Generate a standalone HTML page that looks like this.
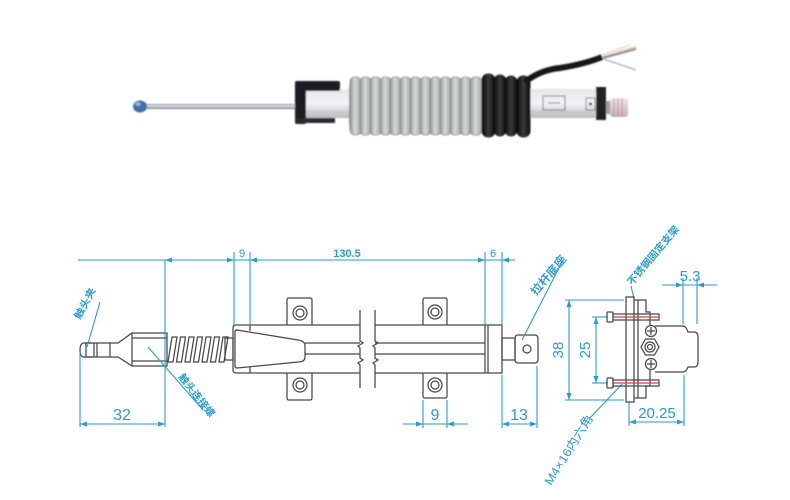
<!DOCTYPE html>
<html><head><meta charset="utf-8"><style>
html,body{margin:0;padding:0;background:#fff;}
svg{display:block;}
.d{stroke:#484848;stroke-width:1.25;fill:none;}
.b{stroke:#2b9bd3;stroke-width:1.1;fill:none;}
.a{fill:#2b9bd3;}
.t{fill:#2b9bd3;font-family:"Liberation Sans","Noto Sans CJK SC",sans-serif;}
.r{stroke:#e23a3a;stroke-width:1.2;}
</style></head><body>
<svg width="790" height="500" viewBox="0 0 790 500" xmlns="http://www.w3.org/2000/svg">
<defs>
<linearGradient id="rod" x1="0" y1="0" x2="0" y2="1"><stop offset="0" stop-color="#7b8290"/><stop offset="0.4" stop-color="#e8ecf0"/><stop offset="1" stop-color="#6a7180"/></linearGradient>
<linearGradient id="alu" x1="0" y1="0" x2="0" y2="1"><stop offset="0" stop-color="#e6e6ea"/><stop offset="0.5" stop-color="#f4f4f6"/><stop offset="1" stop-color="#b8b8be"/></linearGradient>
<linearGradient id="coil" x1="0" y1="0" x2="1" y2="0"><stop offset="0" stop-color="#8f9494"/><stop offset="0.45" stop-color="#d6dada"/><stop offset="1" stop-color="#9ea3a3"/></linearGradient>
<linearGradient id="bc" x1="0" y1="0" x2="1" y2="0"><stop offset="0" stop-color="#0c0c0c"/><stop offset="0.5" stop-color="#3a3a3a"/><stop offset="1" stop-color="#0c0c0c"/></linearGradient>
<linearGradient id="pink" x1="0" y1="0" x2="0" y2="1"><stop offset="0" stop-color="#f3e4ea"/><stop offset="1" stop-color="#c9aab6"/></linearGradient>
<filter id="soft" x="-5%" y="-20%" width="110%" height="140%"><feGaussianBlur stdDeviation="0.7"/></filter>
</defs>

<!-- ===== PHOTO ===== -->
<g filter="url(#soft)">
<rect x="140" y="104" width="160" height="5" fill="url(#rod)"/>
<ellipse cx="140" cy="106.5" rx="7" ry="6" fill="#3f6fa6"/>
<ellipse cx="138" cy="104" rx="3" ry="2" fill="#8fb0d8"/>
<rect x="300" y="89" width="306" height="29" fill="url(#alu)"/>
<line x1="300" y1="112" x2="606" y2="112" stroke="#c0c0c6" stroke-width="1"/>
<rect x="295" y="81" width="45" height="10" rx="2" fill="#1c1c20"/>
<rect x="295" y="81" width="11" height="43" rx="2" fill="#1c1c20"/>
<rect x="295" y="118" width="40" height="5" fill="#2a2a2e"/>
<rect x="596" y="87" width="10" height="33" fill="#202024"/>
<rect x="606" y="101" width="8" height="13" fill="#9aa0a8"/>
<rect x="610" y="98" width="18" height="19" rx="3" fill="url(#pink)"/>
<line x1="614" y1="99" x2="614" y2="116" stroke="#b896a4" stroke-width="1"/>
<line x1="618" y1="99" x2="618" y2="116" stroke="#b896a4" stroke-width="1"/>
<line x1="622" y1="99" x2="622" y2="116" stroke="#b896a4" stroke-width="1"/>
<rect x="543" y="96" width="22" height="14" fill="none" stroke="#555" stroke-width="0.8"/>
<line x1="548" y1="103" x2="560" y2="103" stroke="#555" stroke-width="0.8"/>
<rect x="586" y="98" width="9" height="12" fill="none" stroke="#555" stroke-width="0.8"/>
<circle cx="590.5" cy="104" r="1.5" fill="#222"/>
<rect x="349" y="79" width="136" height="55" rx="10" fill="#9a9f9f"/>
<g fill="url(#coil)" stroke="#838888" stroke-width="0.8">
<rect x="350" y="77" width="11" height="58" rx="5"/>
<rect x="360" y="77" width="11" height="58" rx="5"/>
<rect x="370" y="77" width="11" height="58" rx="5"/>
<rect x="380" y="77" width="11" height="58" rx="5"/>
<rect x="390" y="77" width="11" height="58" rx="5"/>
<rect x="400" y="77" width="11" height="58" rx="5"/>
<rect x="410" y="77" width="11" height="58" rx="5"/>
<rect x="420" y="77" width="11" height="58" rx="5"/>
<rect x="430" y="77" width="11" height="58" rx="5"/>
<rect x="440" y="77" width="11" height="58" rx="5"/>
<rect x="450" y="77" width="11" height="58" rx="5"/>
<rect x="460" y="77" width="11" height="58" rx="5"/>
<rect x="470" y="77" width="12" height="58" rx="5"/>
</g>
<g fill="url(#bc)" stroke="#000" stroke-width="0.8">
<rect x="482" y="74" width="13" height="63" rx="6"/>
<rect x="494" y="75" width="12" height="61" rx="6"/>
<rect x="505" y="76" width="12" height="60" rx="6"/>
<rect x="517" y="76" width="13" height="61" rx="6"/>
</g>
<path d="M525,82 Q540,70 560,68 Q585,64 602,57" stroke="#141414" stroke-width="6" fill="none"/>
<path d="M602,57 L636,47" stroke="#f0c040" stroke-width="1.5" fill="none"/>
<path d="M603,58 L636,49" stroke="#4a6ed8" stroke-width="1.5" fill="none"/>
<path d="M602,55 L630,45" stroke="#d8d8d8" stroke-width="1.3" fill="none"/>
<path d="M604,59 L636,70" stroke="#b8b8b8" stroke-width="1.6" fill="none"/>
</g>

<!-- ===== DRAWING ===== -->
<path class="d" d="M92,343 L84,343 Q80,343 80,350 Q80,357 84,357 L92,357"/>
<rect class="d" x="86" y="343" width="24" height="14"/>
<line class="d" x1="94" y1="343" x2="94" y2="357"/>
<line class="d" x1="97" y1="343" x2="97" y2="357"/>
<path class="d" d="M110,343 L118,343 L132,333 L167,333 L167,366 L132,366 L118,357 L110,357"/>
<line class="d" x1="132" y1="333" x2="132" y2="366"/>
<line class="d" x1="132" y1="338" x2="167" y2="338"/>
<line class="d" x1="132" y1="361" x2="167" y2="361"/>
<g class="d">
<path d="M168,362 L172,337 L177,337 L173,362 Z"/>
<path d="M176.5,362 L180.5,337 L185.5,337 L181.5,362 Z"/>
<path d="M185,362 L189,337 L194,337 L190,362 Z"/>
<path d="M193.5,362 L197.5,337 L202.5,337 L198.5,362 Z"/>
<path d="M202,362 L206,337 L211,337 L207,362 Z"/>
<path d="M210.5,362 L214.5,337 L219.5,337 L215.5,362 Z"/>
<path d="M219,362 L223,337 L228,337 L224,362 Z"/>
</g>
<rect class="d" x="225" y="338" width="8" height="22"/>
<path class="d" d="M360,325 L236,325 Q233,325 233,328 L233,370 Q233,373 236,373 L360,373"/>
<path class="d" d="M237,330 L298,340 Q305,341 305,346 L305,357 Q305,362 298,362 L237,368 Q235,368 235,366 L235,332 Q235,330 237,330 Z"/>
<line class="d" x1="305" y1="343" x2="360" y2="343"/>
<line class="d" x1="305" y1="354" x2="360" y2="354"/>
<line class="d" x1="250" y1="325" x2="250" y2="331"/>
<line class="d" x1="250" y1="367" x2="250" y2="373"/>
<path class="d" d="M360,310 L360,341 L363,343 L358,346 L360,348 L360,358 L363,360 L358,363 L360,365 L360,388"/>
<path class="d" d="M375,310 L375,341 L378,343 L373,346 L375,348 L375,358 L378,360 L373,363 L375,365 L375,388"/>
<path class="d" d="M375,325 L502,325 L502,373 L375,373"/>
<line class="d" x1="375" y1="343" x2="485" y2="343"/>
<line class="d" x1="375" y1="354" x2="485" y2="354"/>
<line class="d" x1="485" y1="325" x2="485" y2="373"/>
<line class="d" x1="488" y1="325" x2="488" y2="373" stroke-width="1.6"/>
<path class="d" d="M287,325 L287,300 Q287,298 289,298 L310,298 Q312,298 312,300 L312,325"/>
<circle class="d" cx="300" cy="313" r="7"/><circle class="d" cx="300" cy="313" r="4"/>
<path class="d" d="M287,373 L287,398 Q287,400 289,400 L310,400 Q312,400 312,398 L312,373"/>
<circle class="d" cx="300" cy="385" r="7"/><circle class="d" cx="300" cy="385" r="4"/>
<path class="d" d="M423,325 L423,300 Q423,298 425,298 L445,298 Q447,298 447,300 L447,325"/>
<circle class="d" cx="435" cy="312" r="7"/><circle class="d" cx="435" cy="312" r="4"/>
<path class="d" d="M423,373 L423,396 Q423,398 425,398 L445,398 Q447,398 447,396 L447,373"/>
<circle class="d" cx="435" cy="385" r="7"/><circle class="d" cx="435" cy="385" r="4"/>
<rect class="d" x="502" y="338" width="13" height="22"/>
<rect class="d" x="515" y="335" width="23" height="28" rx="3"/>
<circle class="d" cx="527" cy="349" r="4"/>

<g class="b">
<line x1="78" y1="260" x2="515" y2="260"/>
<line x1="165" y1="260" x2="165" y2="427"/>
<line x1="234" y1="252" x2="234" y2="325"/>
<line x1="250" y1="252" x2="250" y2="325"/>
<line x1="485" y1="252" x2="485" y2="325"/>
<line x1="502" y1="252" x2="502" y2="325"/>
<line x1="80" y1="352" x2="80" y2="427"/>
<line x1="80" y1="424" x2="165" y2="424"/>
<line x1="423" y1="400" x2="423" y2="428"/>
<line x1="447" y1="400" x2="447" y2="428"/>
<line x1="403" y1="424" x2="468" y2="424"/>
<line x1="502" y1="375" x2="502" y2="428"/>
<line x1="537" y1="366" x2="537" y2="428"/>
<line x1="502" y1="424" x2="537" y2="424"/>
<line x1="100" y1="302" x2="87" y2="347"/>
<line x1="148" y1="347" x2="203" y2="410"/>
<line x1="562" y1="262" x2="522" y2="340"/>
</g>
<g class="a">
<polygon points="165,260 172,257.5 172,262.5"/>
<polygon points="234,260 227,257.5 227,262.5"/>
<polygon points="250,260 257,257.5 257,262.5"/>
<polygon points="485,260 478,257.5 478,262.5"/>
<polygon points="502,260 509,257.5 509,262.5"/>
<polygon points="80,424 87,421.5 87,426.5"/>
<polygon points="165,424 158,421.5 158,426.5"/>
<polygon points="423,424 416,421.5 416,426.5"/>
<polygon points="447,424 454,421.5 454,426.5"/>
<polygon points="502,424 509,421.5 509,426.5"/>
<polygon points="537,424 530,421.5 530,426.5"/>
</g>
<text class="t" x="242" y="257" font-size="11" text-anchor="middle">9</text>
<text class="t" x="347" y="257" font-size="11" font-weight="bold" text-anchor="middle">130.5</text>
<text class="t" x="493" y="257" font-size="11" text-anchor="middle">6</text>
<text class="t" x="122" y="420" font-size="16" text-anchor="middle">32</text>
<text class="t" x="435" y="420" font-size="16" text-anchor="middle">9</text>
<text class="t" x="519" y="420" font-size="16" text-anchor="middle">13</text>
<text class="t" font-size="10" font-weight="bold" transform="translate(80,320) rotate(-62)" textLength="34" lengthAdjust="spacingAndGlyphs">触头夹</text>
<text class="t" font-size="10" font-weight="bold" transform="translate(178,377) rotate(52)" textLength="52" lengthAdjust="spacingAndGlyphs">触头连接螺</text>
<text class="t" font-size="11" font-weight="bold" transform="translate(536,296) rotate(-50)" textLength="48" lengthAdjust="spacingAndGlyphs">拉杆底座</text>

<g class="b">
<line x1="569" y1="300" x2="569" y2="400"/>
<line x1="565" y1="300" x2="624" y2="300"/>
<line x1="565" y1="400" x2="624" y2="400"/>
<line x1="596" y1="317" x2="596" y2="383"/>
<line x1="592" y1="317" x2="608" y2="317"/>
<line x1="592" y1="383" x2="608" y2="383"/>
<line x1="662" y1="285" x2="717" y2="285"/>
<line x1="683" y1="278" x2="683" y2="324"/>
<line x1="697" y1="278" x2="697" y2="324"/>
<line x1="629" y1="402" x2="629" y2="426"/>
<line x1="684" y1="375" x2="684" y2="426"/>
<line x1="629" y1="422" x2="684" y2="422"/>
<line x1="622" y1="384" x2="590" y2="418"/>
<line x1="634" y1="299" x2="631" y2="286"/>
</g>
<g class="a">
<polygon points="569,300 566.5,307 571.5,307"/>
<polygon points="569,400 566.5,393 571.5,393"/>
<polygon points="596,317 593.5,324 598.5,324"/>
<polygon points="596,383 593.5,376 598.5,376"/>
<polygon points="683,285 676,282.5 676,287.5"/>
<polygon points="697,285 704,282.5 704,287.5"/>
<polygon points="629,422 636,419.5 636,424.5"/>
<polygon points="684,422 677,419.5 677,424.5"/>
</g>
<text class="t" font-size="15" transform="translate(563,350) rotate(-90)" text-anchor="middle">38</text>
<text class="t" font-size="15" transform="translate(590,350) rotate(-90)" text-anchor="middle">25</text>
<text class="t" x="690" y="281" font-size="15" text-anchor="middle">5.3</text>
<text class="t" x="657" y="418" font-size="15" text-anchor="middle">20.25</text>
<text class="t" font-size="10" font-weight="bold" transform="translate(632,286) rotate(-50)" textLength="74" lengthAdjust="spacingAndGlyphs">不锈钢固定支架</text>
<text class="t" font-size="12" transform="translate(551,486) rotate(-58)" textLength="80" lengthAdjust="spacingAndGlyphs">M4×16内六角</text>

<rect class="d" x="626" y="297" width="8" height="105"/>
<path class="d" d="M634,300 L646,300 L646,312 L650,312 L650,326"/>
<path class="d" d="M634,398 L646,398 L646,386 L650,386 L650,370"/>
<line class="d" x1="638" y1="300" x2="638" y2="398"/>
<rect class="d" x="607" y="312" width="6" height="10" rx="1"/>
<rect class="d" x="613" y="314" width="46" height="6"/>
<line class="r" x1="613" y1="317" x2="659" y2="317"/>
<rect class="d" x="607" y="378" width="6" height="10" rx="1"/>
<rect class="d" x="613" y="380" width="46" height="6"/>
<line class="r" x1="613" y1="383" x2="659" y2="383"/>
<path class="d" d="M655,326 L683,326 Q686,326 688,332 L694,332 Q698,332 698,337 L698,362 Q698,367 694,367 L688,367 Q686,372 683,372 L655,372"/>
<polygon class="d" points="641,347 645.5,339 654.5,339 659,347 654.5,355 645.5,355"/>
<circle class="d" cx="650" cy="347" r="5"/>
<circle class="d" cx="650" cy="347" r="2.5"/>
<circle class="d" cx="651" cy="331" r="5.5"/>
<path class="d" d="M647,331 L655,331 M651,327 L651,335"/>
<circle class="d" cx="651" cy="364" r="5.5"/>
<path class="d" d="M647,364 L655,364 M651,360 L651,368"/>
</svg>
</body></html>
